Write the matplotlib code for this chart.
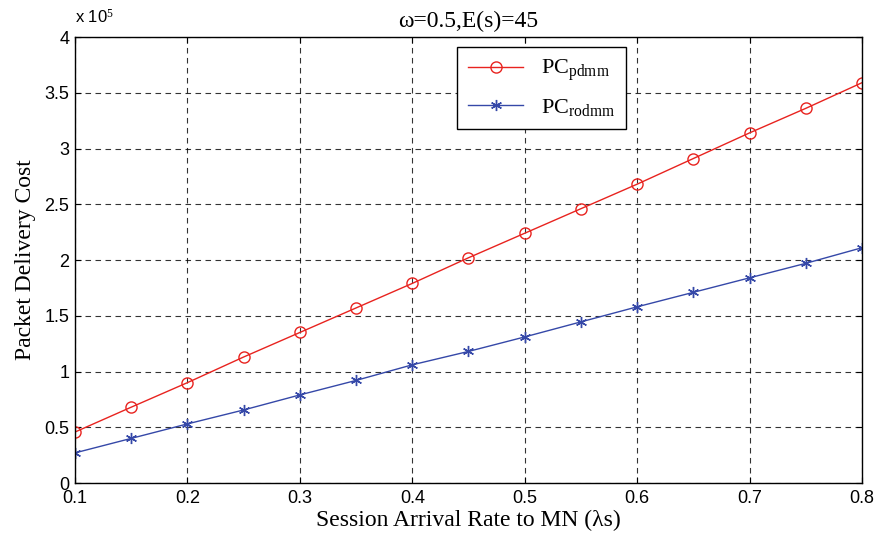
import matplotlib
matplotlib.use("Agg")
import matplotlib.pyplot as plt
from matplotlib.ticker import FuncFormatter, MultipleLocator

x_rate = [0.10, 0.15, 0.20, 0.25, 0.30, 0.35, 0.40, 0.45, 0.50, 0.55, 0.60, 0.65, 0.70, 0.75, 0.80]
pc_pdmm = [45700, 68000, 90000, 113000, 135000, 157000, 179000, 202000, 224000, 246000, 268000, 291000, 314000, 336000, 359000]
pc_rodmm = [27000, 40000, 53000, 65500, 79000, 92000, 106000, 118000, 131000, 144500, 158000, 171000, 184000, 197000, 211000]

plt.rcParams['mathtext.fontset'] = 'custom'
plt.rcParams['mathtext.rm'] = 'Liberation Serif'
plt.rcParams['mathtext.it'] = 'Liberation Serif:italic'

fig = plt.figure(figsize=(8.8, 5.41), dpi=100)
ax = fig.add_axes([0.0852, 0.1072, 0.8943, 0.8244])

ax.plot(x_rate, pc_pdmm, color='#e8231f', lw=1.0, marker='o', ms=8,
        mfc='none', mec='#e8231f', mew=1.0, label=r'PC$_{\mathrm{pdmm}}$')
ax.plot(x_rate, pc_rodmm, color='#3548a8', lw=1.0, marker=(6, 2, 0), ms=8,
        mec='#3548a8', mew=1.0, label=r'PC$_{\mathrm{rodmm}}$')

ax.set_xlim(0.1, 0.8)
ax.set_ylim(0, 400000)
ax.xaxis.set_major_locator(MultipleLocator(0.1))
ax.yaxis.set_major_locator(MultipleLocator(50000))
ax.xaxis.set_major_formatter(FuncFormatter(lambda v, p: f"{v:g}"))
ax.yaxis.set_major_formatter(FuncFormatter(lambda v, p: f"{v/1e5:g}"))

ax.grid(True, color='black', linestyle=(0, (5, 4)), lw=0.8, alpha=0.8)
ax.tick_params(direction='in', top=True, right=True, length=4, labelsize=13)
ax.tick_params(axis='x', pad=5)
ax.tick_params(axis='y', pad=4)
for lab in ax.get_xticklabels() + ax.get_yticklabels():
    lab.set_fontfamily('Liberation Sans')
for s in ax.spines.values():
    s.set_linewidth(1.0)

ax.text(0.0, 1.025, r'x 10$^{5}$', transform=ax.transAxes, fontsize=12,
        family='Liberation Sans', ha='left', va='bottom')

ax.set_title('ω=0.5,E(s)=45', family='Liberation Serif', fontsize=17, pad=7)
ax.set_xlabel('Session Arrival Rate to MN (λs)', family='Liberation Serif', fontsize=17, labelpad=2)
ax.set_ylabel('Packet Delivery Cost', family='Liberation Serif', fontsize=17, labelpad=6)

leg = ax.legend(loc='upper left', bbox_to_anchor=(0.485, 0.978), fancybox=False,
                edgecolor='black', framealpha=1, prop={'family': 'Liberation Serif', 'size': 16},
                handlelength=2.5, borderpad=0.5, labelspacing=0.6, borderaxespad=0)
leg.get_frame().set_linewidth(1.0)

fig.savefig('out.png', dpi=100)
